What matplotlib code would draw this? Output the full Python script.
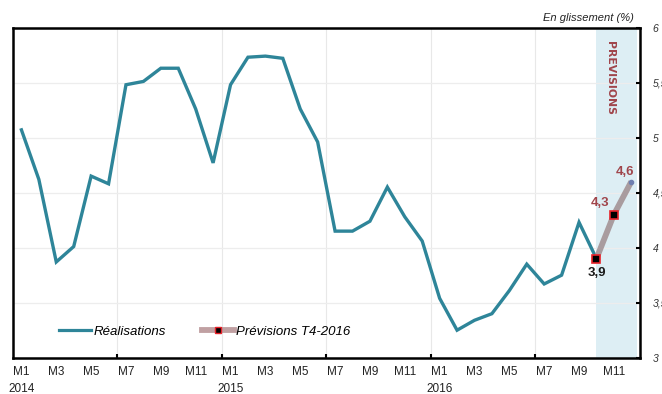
import matplotlib
matplotlib.use("Agg")
import matplotlib.pyplot as plt
from matplotlib.lines import Line2D
from matplotlib.ticker import FixedLocator, FuncFormatter
import matplotlib.transforms as mtransforms

plt.rcParams['font.family'] = ['Liberation Sans', 'DejaVu Sans']

# Monthly year-on-year growth (%), Jan 2014 - Oct 2016
years = [2014, 2015, 2016]
month_labels = [f"M{m}" for y in years for m in range(1, 13)]
realisations = [5.07, 4.62, 3.87, 4.01, 4.65, 4.58, 5.48, 5.51, 5.63, 5.63, 5.26, 4.77,
                5.48, 5.73, 5.74, 5.72, 5.26, 4.96, 4.15, 4.15, 4.24, 4.55, 4.28, 4.06,
                3.54, 3.25, 3.34, 3.40, 3.61, 3.85, 3.67, 3.75, 4.23, 3.90]
# Q4-2016 forecast: M10, M11, M12 2016
prev_months = ["M10", "M11", "M12"]
previsions = [3.9, 4.3, 4.6]
y_ticks = [3, 3.5, 4, 4.5, 5, 5.5, 6]

teal = "#2E8599"
fc_line = "#A99C9F"
fc_text = "#A0454B"

fig = plt.figure(figsize=(6.62, 3.94), dpi=100)
ax = fig.add_axes([0.0192, 0.0921, 0.9476, 0.8381])

n = len(month_labels)
x_real = list(range(len(realisations)))
x_prev = list(range(len(realisations) - 1, len(realisations) - 1 + len(previsions)))

# forecast shading
ax.axvspan(x_prev[0], x_prev[-1] + 0.33, color="#DDEEF4", lw=0, zorder=0)

ax.plot(x_real, realisations, color=teal, lw=2.4, solid_joinstyle="miter", zorder=3)
ax.plot(x_prev, previsions, color=fc_line, lw=4.2, solid_capstyle="butt", zorder=4)
ax.plot(x_prev[:2], previsions[:2], ls="none", marker="s", ms=5.5, mfc="black",
        mec="#E8222A", mew=1.2, zorder=5)
ax.plot(x_prev[2:], previsions[2:], ls="none", marker="o", ms=3, mfc="#6F7FB0",
        mec="#6F7FB0", zorder=5)

def fr(v):
    return f"{v:.1f}".replace(".", ",")

ax.annotate(fr(previsions[0]), (x_prev[0], previsions[0]), xytext=(0, -10),
            textcoords="offset points", ha="center", va="center",
            fontsize=9.5, fontweight="bold", color="#1A1A1A", zorder=6)
ax.annotate(fr(previsions[1]), (x_prev[1], previsions[1]), xytext=(-10, 8.4),
            textcoords="offset points", ha="center", va="center",
            fontsize=9.5, fontweight="bold", color=fc_text, zorder=6)
ax.annotate(fr(previsions[2]), (x_prev[2], previsions[2]), xytext=(-4.6, 7),
            textcoords="offset points", ha="center", va="center",
            fontsize=9.5, fontweight="bold", color=fc_text, zorder=6)

ax.text(x_prev[0] + 0.78, 5.54, "PREVISIONS", rotation=-90, ha="center", va="center",
        fontsize=7.8, fontweight="bold", color=fc_text, family="Liberation Sans Narrow",
        zorder=6)

ax.set_xlim(-0.5, n - 0.5)
ax.set_ylim(3, 6)

# x axis: labels every 2 months at category centres, ticks/grid every 6 months
ax.xaxis.set_major_locator(FixedLocator(list(range(0, n, 2))))
ax.set_xticklabels([month_labels[i] for i in range(0, n, 2)])
ax.xaxis.set_minor_locator(FixedLocator([i - 0.5 for i in range(6, n, 6)]))
ax.tick_params(axis="x", which="major", length=0, pad=6, labelsize=8.5, colors="#222222")
ax.tick_params(axis="x", which="minor", length=3, width=1.5, direction="in", color="black")
ax.grid(axis="x", which="minor", color="#E8E8E8", lw=0.8, zorder=1)

trans = mtransforms.blended_transform_factory(ax.transData, ax.transAxes)
for k, y in enumerate(years):
    ax.text(12 * k, -0.094, str(y), transform=trans, ha="center", va="center",
            fontsize=8.5, color="#222222")

# y axis on the right
ax.yaxis.tick_right()
ax.yaxis.set_major_locator(FixedLocator(y_ticks))
ax.yaxis.set_major_formatter(FuncFormatter(lambda v, p: f"{v:g}".replace(".", ",")))
ax.tick_params(axis="y", length=3, width=1.5, direction="in", pad=9, labelsize=7.5,
               colors="black", labelcolor="#333333")
for lab in ax.get_yticklabels():
    lab.set_fontstyle("italic")
ax.grid(axis="y", color="#EDEDED", lw=0.9, zorder=1)

for s in ax.spines.values():
    s.set_color("black")
    s.set_linewidth(1.8)
    s.set_zorder(7)

ax.text(1.0 - 0.01, 1.015, "En glissement (%)", transform=ax.transAxes, ha="right",
        va="bottom", fontsize=8, style="italic", color="#222222")

handles = [Line2D([], [], color=teal, lw=2.3),
           Line2D([], [], color="#C0A0A2", lw=4.2, marker="s", ms=5, mfc="black",
                  mec="#E8222A", mew=1)]
leg = ax.legend(handles, ["Réalisations", "Prévisions T4-2016"], ncol=2, frameon=False,
                loc="center left", bbox_to_anchor=(0.055, 0.079), handlelength=2.4,
                handletextpad=0.2, columnspacing=2.75, prop={"size": 9.5, "style": "italic"})

fig.savefig("out.png", dpi=100)
